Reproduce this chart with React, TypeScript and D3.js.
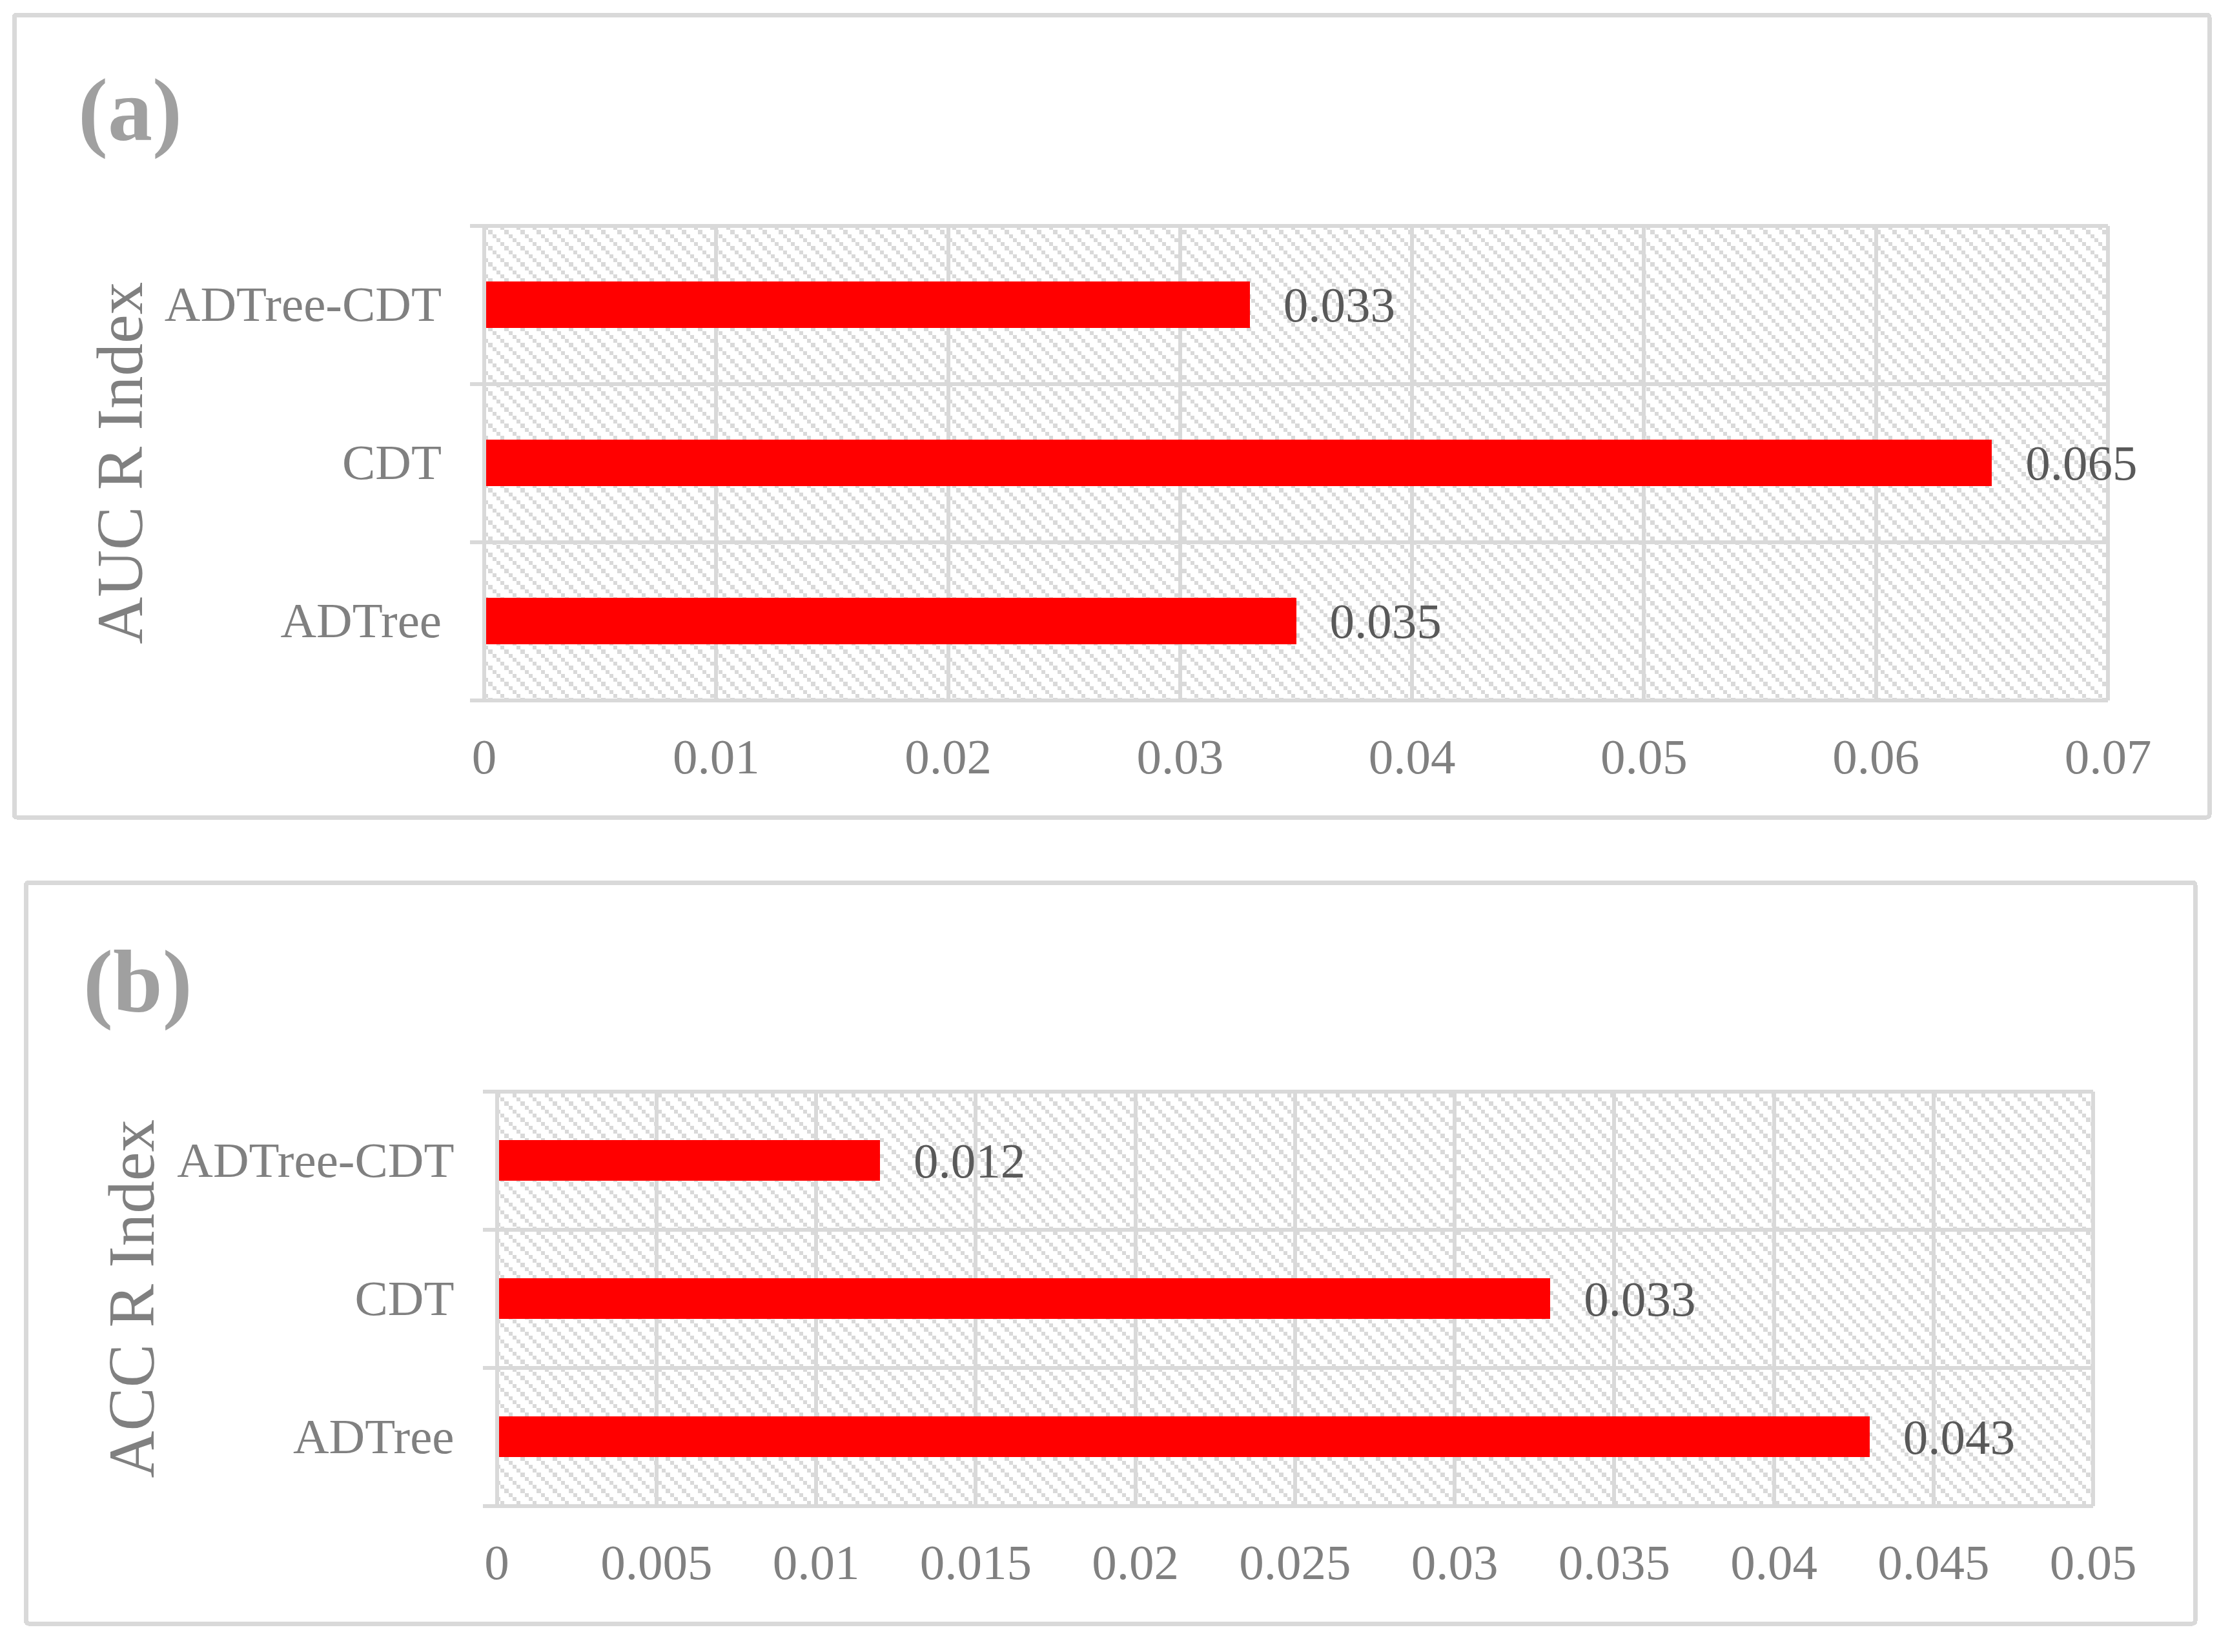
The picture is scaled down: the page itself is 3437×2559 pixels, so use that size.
import * as d3 from "d3";

// categories, top to bottom as drawn
const categories = ["ADTree-CDT", "CDT", "ADTree"];

// panel (a): AUC R index
const aucValues = [0.033, 0.065, 0.035];
const aucTicks = [0, 0.01, 0.02, 0.03, 0.04, 0.05, 0.06, 0.07];

// panel (b): ACC R index
const accValues = [0.012, 0.033, 0.043];
const accTicks = [0, 0.005, 0.01, 0.015, 0.02, 0.025, 0.03, 0.035, 0.04, 0.045, 0.05];

const W = 3437;
const H = 2559;
const GRID = "#d9d9d9";
const SERIF = "'Liberation Serif', 'Times New Roman', serif";

const fmt = (v: number) => String(+v.toFixed(3));

type PanelProps = {
  id: string;
  tag: string;
  title: string;
  values: number[];
  ticks: number[];
  frame: { x: number; y: number; w: number; h: number };
  plot: { x0: number; x1: number; y0: number; y1: number };
  tagPos: [number, number];
  titleX: number;
};

function Panel(p: PanelProps) {
  const { plot } = p;

  const x = d3
    .scaleLinear()
    .domain([0, p.ticks[p.ticks.length - 1]])
    .range([plot.x0, plot.x1]);

  // gap width 240% -> bar is 1/3.4 of the category step
  const inner = 1 - 1 / 3.4;
  const y = d3
    .scaleBand<string>()
    .domain(categories)
    .range([plot.y0, plot.y1])
    .paddingInner(inner)
    .paddingOuter(inner / 2);

  const step = y.step();
  const bw = y.bandwidth();
  const boundaries = d3.range(categories.length + 1).map((i) => plot.y0 + i * step);

  return (
    <g>
      <rect
        x={p.frame.x}
        y={p.frame.y}
        width={p.frame.w}
        height={p.frame.h}
        rx={4}
        fill="#fff"
        stroke={GRID}
        strokeWidth={7}
      />
      <text
        x={p.tagPos[0]}
        y={p.tagPos[1]}
        fontFamily={SERIF}
        fontWeight="bold"
        fontSize={138}
        fill="#a0a0a0"
      >
        {p.tag}
      </text>

      {/* hatched plot background */}
      <rect
        x={plot.x0}
        y={plot.y0}
        width={plot.x1 - plot.x0}
        height={plot.y1 - plot.y0}
        fill={`url(#${p.id}-hatch)`}
      />

      {/* value gridlines */}
      {p.ticks.map((t) => (
        <line key={"g" + t} x1={x(t)} x2={x(t)} y1={plot.y0} y2={plot.y1} stroke={GRID} strokeWidth={6} />
      ))}

      {/* category gridlines with outside ticks */}
      {boundaries.map((b, i) => (
        <line key={"c" + i} x1={plot.x0 - 22} x2={plot.x1} y1={b} y2={b} stroke={GRID} strokeWidth={6} />
      ))}

      {/* bars */}
      {categories.map((c, i) => (
        <rect key={c} x={x(0)} y={y(c)} width={x(p.values[i]) - x(0)} height={bw} fill="#ff0000" />
      ))}

      {/* axis line on top */}
      <line x1={x(0)} x2={x(0)} y1={plot.y0 - 3} y2={plot.y1 + 3} stroke={GRID} strokeWidth={6} />

      {/* data labels */}
      {categories.map((c, i) => (
        <text
          key={"d" + c}
          x={x(p.values[i]) + 52}
          y={(y(c) as number) + bw / 2 + 26}
          fontFamily={SERIF}
          fontSize={77}
          fill="#595959"
        >
          {fmt(p.values[i])}
        </text>
      ))}

      {/* category labels */}
      {categories.map((c) => (
        <text
          key={"l" + c}
          x={plot.x0 - 66}
          y={(y(c) as number) + bw / 2 + 25}
          textAnchor="end"
          fontFamily={SERIF}
          fontSize={77}
          fill="#808080"
        >
          {c}
        </text>
      ))}

      {/* tick labels */}
      {p.ticks.map((t) => (
        <text
          key={"t" + t}
          x={x(t)}
          y={plot.y1 + 113}
          textAnchor="middle"
          fontFamily={SERIF}
          fontSize={77}
          fill="#808080"
        >
          {fmt(t)}
        </text>
      ))}

      {/* axis title */}
      <text
        transform={`translate(${p.titleX},${(plot.y0 + plot.y1) / 2}) rotate(-90)`}
        textAnchor="middle"
        fontFamily={SERIF}
        fontSize={101}
        fill="#808080"
      >
        {p.title}
      </text>
    </g>
  );
}

function Hatch({ id }: { id: string }) {
  const s = 6.25;
  return (
    <pattern id={id} patternUnits="userSpaceOnUse" width={4 * s} height={4 * s}>
      <rect width={4 * s} height={4 * s} fill="#fff" />
      {d3.range(4).map((i) => (
        <rect key={i} x={i * s} y={i * s} width={s} height={s} fill={GRID} />
      ))}
    </pattern>
  );
}

export default function App() {
  return (
    <svg
      width={W}
      height={H}
      viewBox={`0 0 ${W} ${H}`}
      style={{ position: "absolute", left: 0, top: 0, background: "#fff" }}
      shapeRendering="crispEdges"
    >
      <defs>
        <Hatch id="a-hatch" />
        <Hatch id="b-hatch" />
      </defs>
      <rect width={W} height={H} fill="#fff" />
      <Panel
        id="a"
        tag="(a)"
        title="AUC R Index"
        values={aucValues}
        ticks={aucTicks}
        frame={{ x: 22, y: 23, w: 3400, h: 1243 }}
        plot={{ x0: 750, x1: 3265, y0: 349.5, y1: 1085 }}
        tagPos={[121, 217]}
        titleX={220}
      />
      <Panel
        id="b"
        tag="(b)"
        title="ACC R Index"
        values={accValues}
        ticks={accTicks}
        frame={{ x: 40.5, y: 1367, w: 3359.5, h: 1148 }}
        plot={{ x0: 769.5, x1: 3242, y0: 1690.5, y1: 2333 }}
        tagPos={[129, 1567]}
        titleX={237.5}
      />
    </svg>
  );
}
